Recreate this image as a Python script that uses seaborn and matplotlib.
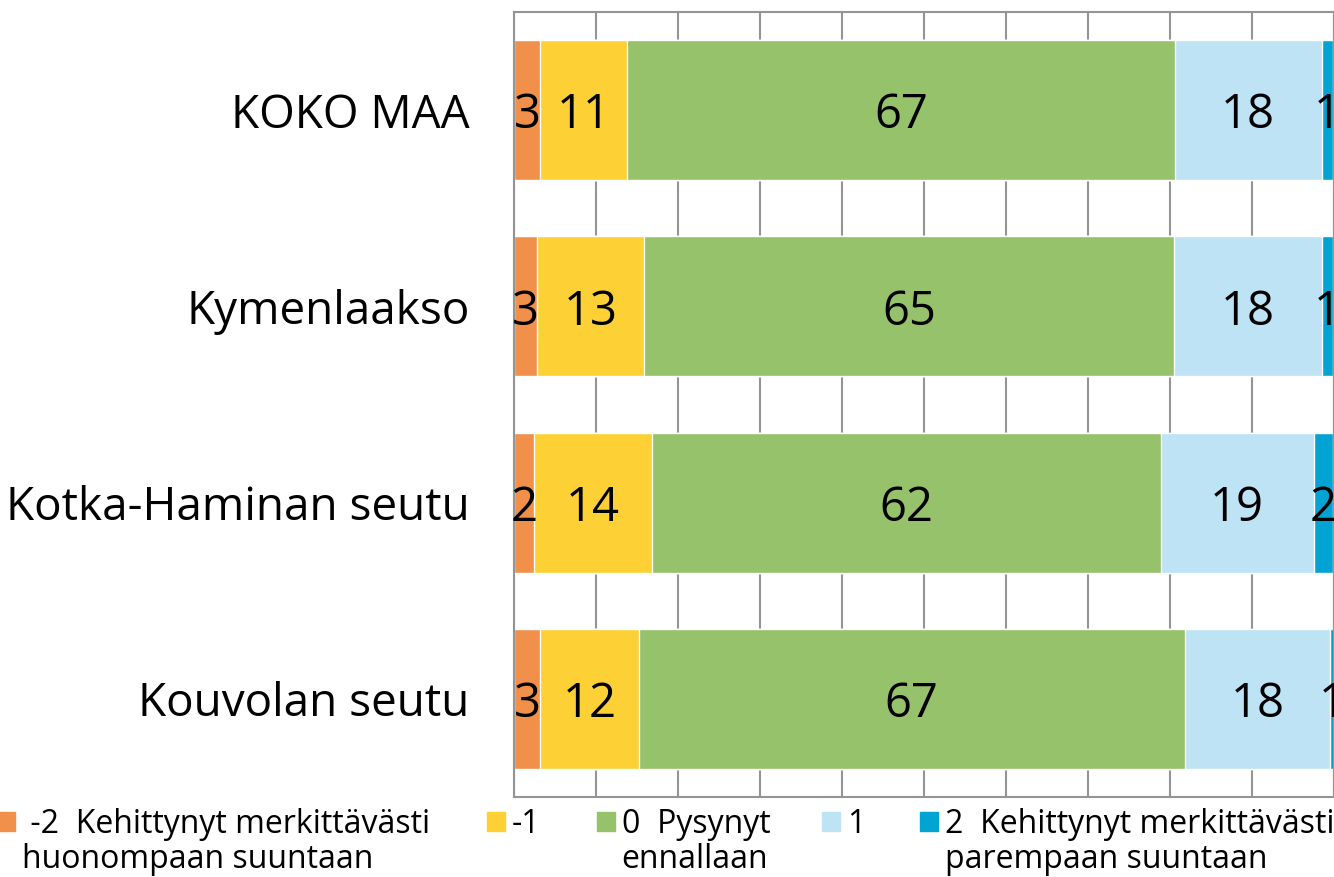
import pandas as pd
import matplotlib.pyplot as plt
from matplotlib.patches import Patch
import seaborn as sns

# shares (%) per area
areas = ["KOKO MAA", "Kymenlaakso", "Kotka-Haminan seutu", "Kouvolan seutu"]
much_worse = [3.2, 2.8, 2.4, 3.2]
worse = [10.6, 13.1, 14.4, 12.0]
same = [66.8, 64.6, 62.1, 66.6]
better = [17.9, 18.0, 18.6, 17.7]
much_better = [1.4, 1.4, 2.4, 0.6]

legend_first = [" -2  Kehittynyt merkittävästi", "-1", "0  Pysynyt", "1", "2  Kehittynyt merkittävästi"]
legend_second = ["huonompaan suuntaan", "", "ennallaan", "", "parempaan suuntaan"]
colors = ["#F0904B", "#FDD036", "#95C26B", "#BDE3F5", "#00A3D1"]

sns.set_theme(style="white")
plt.rcParams["font.family"] = ["Open Sans", "DejaVu Sans"]
plt.rcParams["text.color"] = "black"
plt.rcParams["ytick.labelcolor"] = "black"

cols = ["s0", "s1", "s2", "s3", "s4"]
df = pd.DataFrame({"area": areas, "s0": much_worse, "s1": worse, "s2": same,
                   "s3": better, "s4": much_better})
cum = df[cols].cumsum(axis=1)

W, H = 1334, 877
fig = plt.figure(figsize=(W / 100, H / 100), dpi=100)
ax = fig.add_axes([514 / W, 1 - 797 / H, 1 - 514 / W, (797 - 12) / H])

# stacked bars: draw widest cumulative first so the shorter ones sit on top
for i in reversed(range(len(cols))):
    sns.barplot(x=cum[cols[i]], y=df["area"], color=colors[i], width=0.714,
                saturation=1, errorbar=None, orient="h", ax=ax)

for j in range(len(areas)):
    for c in cols:
        v = df.loc[j, c]
        ax.text(cum.loc[j, c] - v / 2, j, f"{v:.0f}", ha="center",
                va="center_baseline", fontsize=34, color="black")

ax.set_xlim(0, 100)
ax.set_xticks(range(0, 101, 10))
ax.set_xlabel("")
ax.set_ylabel("")
ax.set_axisbelow(True)
ax.grid(axis="x", color="#949494", linewidth=1.5)
ax.grid(axis="y", visible=False)
ax.tick_params(axis="x", length=0, labelbottom=False)
ax.tick_params(axis="y", length=0, pad=32, labelsize=33)
for s in ax.spines.values():
    s.set_color("#949494")
    s.set_linewidth(1.5)

# legend: one entry per column, second line of text added underneath
marker_x = [-3, 487, 597, 822, 920]
legends = []
for k in range(5):
    leg = fig.legend(handles=[Patch(color=colors[k])], labels=[legend_first[k]],
                     loc="center left", bbox_to_anchor=(marker_x[k] / W, 1 - 824.5 / H),
                     frameon=False, borderpad=0, borderaxespad=0, fontsize=23,
                     handlelength=0.55, handleheight=0.55, handletextpad=0.22)
    legends.append(leg)

fig.canvas.draw()
for k, leg in enumerate(legends):
    if legend_second[k]:
        bb = leg.get_texts()[0].get_window_extent()
        fig.text(bb.x0 / W, (bb.y0 - 35) / H, legend_second[k], fontsize=23,
                 ha="left", va="bottom")

fig.savefig("out.png", dpi=100)
